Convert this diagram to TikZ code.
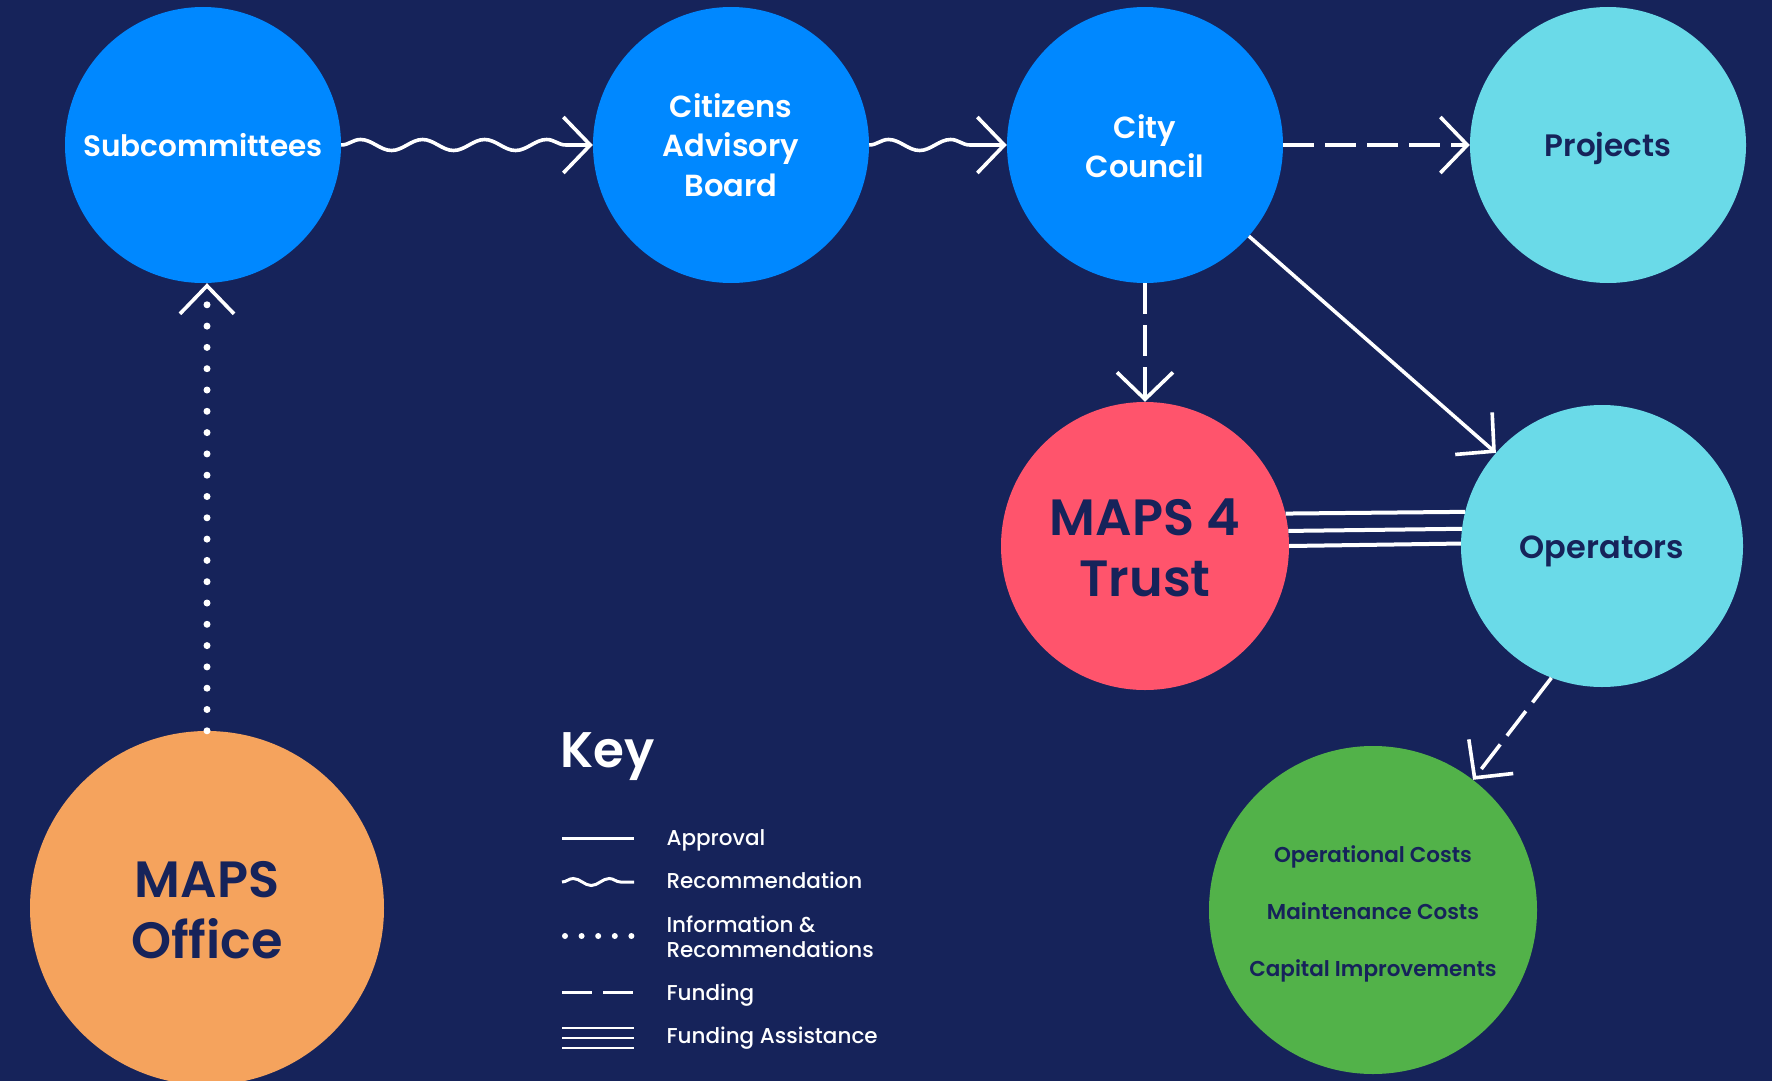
\documentclass[tikz,border=0pt]{standalone}
\usepackage{fontspec}
\setmainfont{Poppins}[UprightFont=* Medium, BoldFont=* SemiBold]
\usetikzlibrary{arrows.meta,decorations.pathmorphing}
\definecolor{navy}{HTML}{16235A}
\definecolor{cblue}{HTML}{0088FF}
\definecolor{ccyan}{HTML}{6ADAE8}
\definecolor{cred}{HTML}{FF546C}
\definecolor{cgreen}{HTML}{52B249}
\definecolor{corange}{HTML}{F5A35D}
\newcommand{\dn}[2]{\raisebox{-#1}[\height][\depth]{#2}}
\tikzset{
  bubble/.style={circle, inner sep=0pt, align=center, text=navy},
  big/.style={font=\bfseries\fontsize{51}{61}\selectfont},
  conn/.style={draw=white, line width=3.6pt},
  tip/.style={-{Straight Barb[length=27pt,width=56pt,line width=3.6pt]}},
  wavy/.style={decorate, decoration={snake, amplitude=5.5pt, segment length=62pt, post length=6pt}},
  fund/.style={dash pattern=on 31pt off 11pt},
  keylabel/.style={anchor=base west, text=white, font=\fontsize{21.5}{25}\selectfont},
}
\begin{document}
\begin{tikzpicture}[x=1pt, y=-1pt]
\useasboundingbox (0,0) rectangle (1772,1081);
\fill[navy] (0,0) rectangle (1772,1081);

% nodes
\node[bubble, fill=cblue, text=white, minimum size=276pt, font=\bfseries\fontsize{29.5}{39.5}\selectfont] (sub) at (203,145) {Subcommittees};
\node[bubble, fill=cblue, text=white, minimum size=276pt, font=\bfseries\fontsize{30.5}{39.5}\selectfont] (cab) at (731,145) {Citizens\\Advisory\\Board};
\node[bubble, fill=cblue, text=white, minimum size=276pt, font=\bfseries\fontsize{30.5}{39.5}\selectfont] (council) at (1145,145) {\dn{1pt}{City}\\\dn{1pt}{Council}};
\node[bubble, fill=ccyan, minimum size=276pt, font=\bfseries\fontsize{31}{39.5}\selectfont] (projects) at (1608,145) {\dn{3.5pt}{Projects}};
\node[bubble, big, fill=cred, minimum size=288pt] (trust) at (1145,546) {\dn{2.3pt}{MAPS 4}\\\dn{2.3pt}{Trust}};
\node[bubble, fill=ccyan, minimum size=282pt, font=\bfseries\fontsize{32}{39.5}\selectfont] (ops) at (1602,546) {\dn{5.5pt}{Operators}};
\node[bubble, fill=cgreen, minimum size=328pt, font=\bfseries\fontsize{21.5}{57}\selectfont] (green) at (1373,910) {\dn{3.4pt}{Operational Costs}\\\dn{3.4pt}{Maintenance Costs}\\\dn{3.4pt}{Capital Improvements}};
\node[bubble, big, fill=corange, minimum size=354pt] (office) at (207,908) {\dn{2.3pt}{MAPS}\\\dn{2.3pt}{Office}};

% connectors
\draw[conn, wavy, tip] (sub) -- (cab);
\draw[conn, wavy, tip] (cab) -- (council);
\draw[conn, fund, tip] (council) -- (projects);
\draw[conn, fund, tip] (council) -- (trust);
\draw[conn, tip] (council) -- (ops);
\draw[conn, fund, tip] (ops.-111.7) -- (green);
\draw[conn, line width=7pt, line cap=round, dash pattern=on 0pt off 21.3pt,
  -{Straight Barb[length=28pt,width=54pt,line width=3.6pt]}] (office) -- (office |- sub.south);
\draw[conn, line width=4pt] (trust.13.25) -- (ops.166.47);
\draw[conn, line width=4pt] (trust.6.78) -- (ops.173.08);
\draw[conn, line width=4pt] (trust.0.4) -- (ops.179.6);

% key
\node[anchor=base west, text=white, font=\bfseries\fontsize{50}{60}\selectfont] (keytitle) at (557,767) {Key};
\coordinate (k1a) at (562,838); \coordinate (k1b) at (634,838);
\coordinate (k2a) at (562,882); \coordinate (k2b) at (634,882);
\coordinate (k3a) at (565,936); \coordinate (k3b) at (634,936);
\coordinate (k4a) at (562,992); \coordinate (k4b) at (634,992);
\coordinate (k5a) at (562,1028); \coordinate (k5b) at (634,1028);
\coordinate (k6a) at (562,1038); \coordinate (k6b) at (634,1038);
\coordinate (k7a) at (562,1048); \coordinate (k7b) at (634,1048);
\draw[conn, line width=3pt] (k1a) -- (k1b);
\draw[conn, line width=3pt, decorate, decoration={snake, amplitude=3.5pt, segment length=36pt}] (k2a) -- (k2b);
\draw[conn, line width=6pt, line cap=round, dash pattern=on 0pt off 16.6pt] (k3a) -- (k3b);
\draw[conn, line width=3pt, dash pattern=on 30pt off 11pt] (k4a) -- (k4b);
\draw[conn, line width=2.4pt] (k5a) -- (k5b);
\draw[conn, line width=2.4pt] (k6a) -- (k6b);
\draw[conn, line width=2.4pt] (k7a) -- (k7b);
\node[keylabel] (l1) at (663,845) {Approval};
\node[keylabel] (l2) at (663,888) {Recommendation};
\node[keylabel] (l3a) at (663,932) {Information \&};
\node[keylabel] (l3b) at (663,957) {Recommendations};
\node[keylabel] (l4) at (663,1000) {Funding};
\node[keylabel] (l5) at (663,1043) {Funding Assistance};
\end{tikzpicture}
\end{document}
